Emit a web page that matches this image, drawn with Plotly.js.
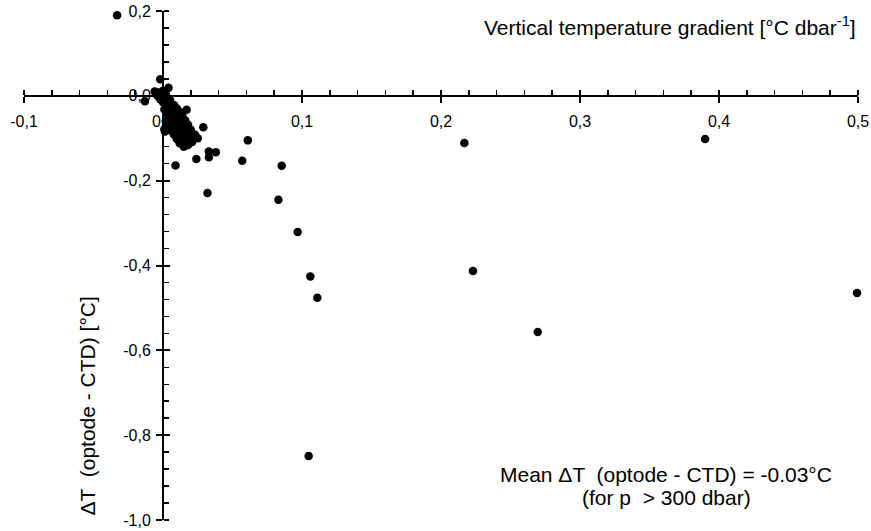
<!DOCTYPE html>
<html>
<head>
<meta charset="utf-8">
<script src="https://cdn.plot.ly/plotly-3.0.1.min.js"></script>
<style>html,body{margin:0;padding:0;background:#fff;}#chart{width:871px;height:531px;}</style>
</head>
<body>
<div id="chart"></div>
<script>
// Vertical temperature gradient [°C dbar-1]
const gradient = [
  -0.033, -0.002, 0.004, -0.013, -0.006, -0.003, 0.000, 0.002, -0.004, 0.001,
  0.003, -0.002, 0.005, 0.000, 0.006, 0.002, 0.008, 0.004, 0.010, 0.001,
  0.007, 0.012, 0.003, 0.009, 0.014, 0.017, 0.005, 0.011, 0.016, 0.002,
  0.008, 0.013, 0.018, 0.004, 0.010, 0.029, 0.015, 0.001, 0.020, 0.006,
  0.012, 0.017, 0.023, 0.008, 0.014, 0.019, 0.010, 0.025, 0.016, 0.021,
  0.012, 0.018, 0.015, 0.0014, 0.033, 0.038, 0.024, 0.033, 0.009, 0.057,
  0.061, 0.0854, 0.032, 0.083, 0.0969, 0.106, 0.111, 0.1048, 0.2168, 0.223,
  0.2696, 0.390, 0.4993
];
// ΔT (optode - CTD) [°C]
const deltaT = [
  0.190, 0.039, 0.019, -0.013, 0.010, 0.008, 0.012, 0.005, 0.000, -0.002,
  -0.006, -0.008, -0.010, -0.015, -0.018, -0.020, -0.022, -0.028, -0.030, -0.032,
  -0.036, -0.038, -0.042, -0.045, -0.048, -0.033, -0.052, -0.055, -0.058, -0.060,
  -0.063, -0.066, -0.068, -0.070, -0.073, -0.074, -0.077, -0.079, -0.080, -0.083,
  -0.086, -0.089, -0.092, -0.092, -0.096, -0.099, -0.102, -0.100, -0.106, -0.109,
  -0.112, -0.116, -0.120, -0.084, -0.131, -0.133, -0.149, -0.145, -0.164, -0.153,
  -0.105, -0.165, -0.229, -0.245, -0.321, -0.426, -0.476, -0.849, -0.111, -0.413,
  -0.557, -0.102, -0.465
];
const xTickVals = [-0.1, 0.0, 0.1, 0.2, 0.3, 0.4, 0.5];
const xTickText = ["-0,1", "0,0", "0,1", "0,2", "0,3", "0,4", "0,5"];
const yTickVals = [0.2, 0.0, -0.2, -0.4, -0.6, -0.8, -1.0];
const yTickText = ["0,2", "0,0", "-0,2", "-0,4", "-0,6", "-0,8", "-1,0"];

const FONT = "Liberation Sans, Arial, Helvetica, sans-serif";
const xRange = [-0.1, 0.5], yRange = [-1.0, 0.2];
const xPos = (0 - yRange[0]) / (yRange[1] - yRange[0]);
const yPos = (0 - xRange[0]) / (xRange[1] - xRange[0]);

const trace = {
  x: gradient, y: deltaT, type: 'scatter', mode: 'markers',
  marker: {color: '#000', size: 8.5},
  cliponaxis: false, hoverinfo: 'skip', showlegend: false
};
const trace2 = {x: [0], y: [0], xaxis: 'x2', yaxis: 'y2', type: 'scatter', mode: 'markers',
  marker: {opacity: 0}, hoverinfo: 'skip', showlegend: false};

const axCommon = {showgrid: false, zeroline: false, linecolor: '#000', linewidth: 2,
  tickcolor: '#000', tickwidth: 2, tickfont: {family: FONT, size: 16, color: '#000'}, fixedrange: true};

const ANN = {family: FONT, size: 21, color: '#000'};

const layout = {
  width: 871, height: 531,
  margin: {l: 24, r: 13, t: 11, b: 11},
  paper_bgcolor: '#fff', plot_bgcolor: '#fff',
  font: {family: FONT, color: '#000'},
  xaxis: Object.assign({}, axCommon, {
    range: xRange, domain: [0, 1], anchor: 'free', position: xPos,
    tickmode: 'array', tickvals: xTickVals, ticktext: xTickText,
    ticks: 'outside', ticklen: 6, ticklabelstandoff: 5,
    minor: {dtick: 0.02, tick0: 0, ticks: 'inside', ticklen: 5, tickwidth: 1.5, tickcolor: '#000'}
  }),
  yaxis: Object.assign({}, axCommon, {
    range: yRange, domain: [0, 1], anchor: 'free', position: yPos,
    tickmode: 'array', tickvals: yTickVals, ticktext: yTickText,
    ticks: 'outside', ticklen: 6, ticklabelstandoff: 2,
    minor: {dtick: 0.04, tick0: 0, ticks: 'inside', ticklen: 5, tickwidth: 1.5, tickcolor: '#000'}
  }),
  xaxis2: {range: xRange, overlaying: 'x', anchor: 'free', position: xPos, showline: false,
    showgrid: false, zeroline: false, showticklabels: false, tickmode: 'array', tickvals: xTickVals,
    ticks: 'inside', ticklen: 6, tickwidth: 2, tickcolor: '#000', fixedrange: true},
  yaxis2: {range: yRange, overlaying: 'y', anchor: 'free', position: yPos, showline: false,
    showgrid: false, zeroline: false, showticklabels: false, tickmode: 'array', tickvals: yTickVals,
    ticks: 'inside', ticklen: 6, tickwidth: 2, tickcolor: '#000', fixedrange: true},
  annotations: [
    {xref: 'x', yref: 'y', x: 0.5, y: 0.165, xanchor: 'right', yanchor: 'middle', showarrow: false,
     text: 'Vertical temperature gradient [°C dbar<sup>-1</sup>]', font: ANN},
    {xref: 'x', yref: 'y', x: -0.054, y: -0.73, xanchor: 'center', yanchor: 'middle', showarrow: false,
     textangle: -90, text: 'ΔT  (optode - CTD) [°C]', font: ANN},
    {xref: 'x', yref: 'y', x: 0.362, y: -0.892, xanchor: 'center', yanchor: 'middle', showarrow: false,
     text: 'Mean ΔT  (optode - CTD) = -0.03°C', font: ANN},
    {xref: 'x', yref: 'y', x: 0.362, y: -0.948, xanchor: 'center', yanchor: 'middle', showarrow: false,
     text: '(for p  > 300 dbar)', font: ANN}
  ]
};

Plotly.newPlot('chart', [trace, trace2], layout, {displayModeBar: false, staticPlot: true});
</script>
</body>
</html>
